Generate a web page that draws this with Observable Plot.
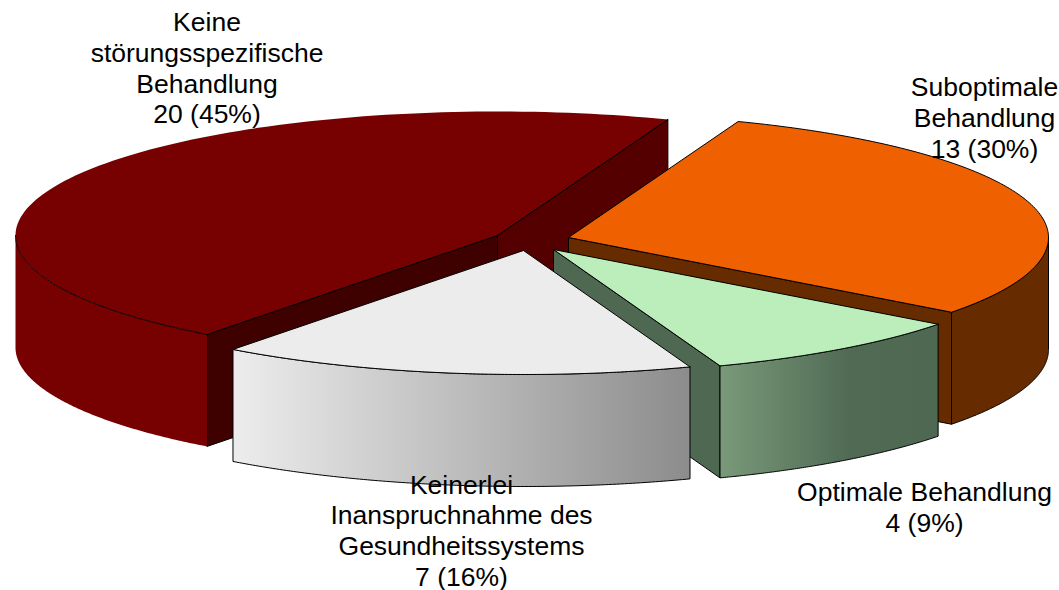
<!DOCTYPE html>
<html>
<head>
<meta charset="utf-8">
<script src="https://cdn.jsdelivr.net/npm/d3@7"></script>
<script src="https://cdn.jsdelivr.net/npm/@observablehq/plot@0.6"></script>
<style>html,body{margin:0;padding:0;background:#fff}svg{display:block}</style>
</head>
<body>
<script>
// Data, clockwise from the orange slice
const names = ["Suboptimale\nBehandlung", "Optimale Behandlung", "Keinerlei\nInanspruchnahme des\nGesundheitssystems", "Keine\nstörungsspezifische\nBehandlung"];
const counts = [13, 4, 7, 20];
const percents = [30, 9, 16, 45];

// Styles and layout of the exploded slices
const topColors = ["#ef6000", "#bbeebb", "#ececec", "#770000"];
const rimColors = ["#662c00", "url(#greenRim)", "url(#whiteRim)", "#770000"];
const fromWallColors = ["#662c00", "#4f6852", "#4f6852", "#3f0000"];
const toWallColors = ["#662c00", "#4f6852", "#4f6852", "#550000"];
const apexX = [568, 553, 523, 497];
const apexY = [237, 249, 250, 235];
const radiiX = [480, 482, 482, 482];
const labelX = [984, 924, 461, 206.5];
const labelY = [116.5, 506, 529.5, 67];
const drawOrder = [3, 0, 1, 2];

const radiusY = 124, depth = 112, startAngle = 69.3;
const total = d3.sum(counts);
const rad = (a) => a * Math.PI / 180;
const rimPoint = (i, a, dy = 0) => ({x: apexX[i] + radiiX[i] * Math.cos(rad(a)), y: apexY[i] - radiusY * Math.sin(rad(a)) + dy});
const arc = (i, from, to, dy = 0) => d3.range(0, 121).map((k) => rimPoint(i, from + (to - from) * k / 120, dy));

const outline = {stroke: "#000", strokeWidth: 1, strokeLinejoin: "round", curve: "linear"};
const poly = (pts, fill, extra = {}) => Plot.line([...pts, pts[0]], {x: "x", y: "y", fill, ...outline, ...extra});
const edge = (pts) => Plot.line(pts, {x: "x", y: "y", ...outline});

// slice extents, clockwise
const spans = [];
let angle = startAngle;
counts.forEach((count) => {
  spans.push([angle, angle - count / total * 360]);
  angle -= count / total * 360;
});

const marks = [];
drawOrder.forEach((i) => {
  const [from, to] = spans[i];
  const apex = {x: apexX[i], y: apexY[i]};
  const apexLow = {x: apexX[i], y: apexY[i] + depth};
  const soft = topColors[i] === rimColors[i]; // the dark red rim has no black outline
  // radial walls that face the viewer
  if (Math.sin(rad(to + 90)) > 0) {
    const p = rimPoint(i, to);
    marks.push(poly([apex, p, {x: p.x, y: p.y + depth}, apexLow], toWallColors[i]));
  }
  if (Math.sin(rad(from - 90)) > 0) {
    const p = rimPoint(i, from);
    marks.push(poly([apex, p, {x: p.x, y: p.y + depth}, apexLow], fromWallColors[i]));
  }
  // outer wall: the part of the rim on the front half
  const a0 = Math.min(from, 0), a1 = Math.max(to, -180);
  if (a0 > a1) {
    marks.push(poly([...arc(i, a0, a1), ...arc(i, a1, a0, depth)], rimColors[i], soft ? {stroke: "none"} : {}));
  }
  // top face
  if (soft) {
    marks.push(poly([apex, ...arc(i, from, to)], topColors[i], {stroke: "none"}));
    marks.push(edge(arc(i, a0, a1)));
    marks.push(edge([rimPoint(i, from), apex, rimPoint(i, to)]));
  } else {
    marks.push(poly([apex, ...arc(i, from, to)], topColors[i]));
  }
});

const labels = names.map((n, i) => ({text: `${n}\n${counts[i]} (${percents[i]}%)`, x: labelX[i], y: labelY[i]}));
marks.push(Plot.text(labels, {
  x: "x", y: "y", text: "text", textAnchor: "middle", lineAnchor: "middle",
  lineHeight: 1.16, fontSize: 26.5, fontFamily: "Liberation Sans", fill: "#000"
}));

const chart = Plot.plot({
  width: 1059, height: 590, margin: 0,
  x: {domain: [0, 1059], range: [0, 1059], axis: null},
  y: {domain: [0, 590], range: [0, 590], axis: null},
  style: {background: "#fff"},
  marks
});
const defs = d3.select(chart).insert("defs", ":first-child");
const gradient = (id, x1, x2, stops) => {
  const g = defs.append("linearGradient").attr("id", id).attr("gradientUnits", "userSpaceOnUse")
    .attr("x1", x1).attr("x2", x2).attr("y1", 0).attr("y2", 0);
  stops.forEach(([o, c]) => g.append("stop").attr("offset", o).attr("stop-color", c));
};
gradient("greenRim", 718, 938, [[0, "#7a9a7a"], [0.6, "#506a54"], [1, "#4f6852"]]);
gradient("whiteRim", 232, 690, [[0, "#ededed"], [1, "#8c8c8c"]]);
document.body.appendChild(chart);
</script>
</body>
</html>
